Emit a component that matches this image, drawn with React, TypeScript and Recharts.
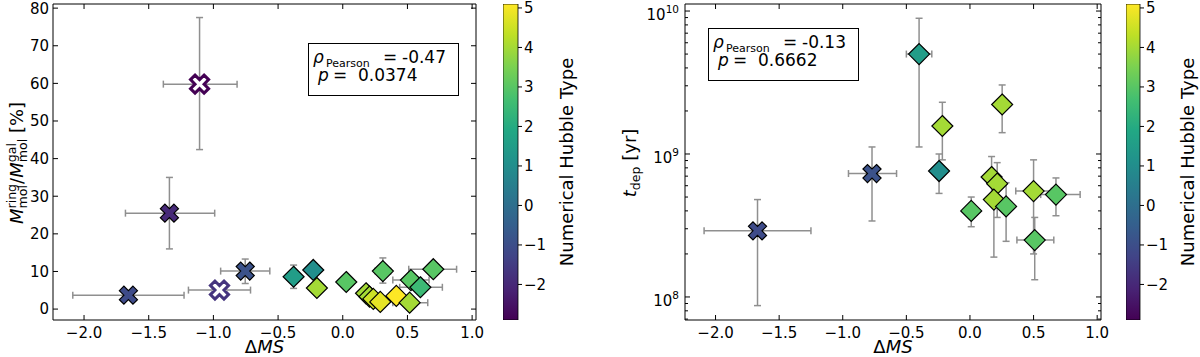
import { ScatterChart, Scatter, XAxis, YAxis, ErrorBar, ReferenceArea, BarChart, Bar } from 'recharts';

const FONT = '"DejaVu Sans", sans-serif';

// left panel: ring molecular gas fraction vs. offset from the main sequence
const ringDms = [-1.107, -1.34, -1.657, -0.754, -0.953, -0.38, -0.228, -0.2, 0.027, 0.31, 0.527, 0.6, 0.7, 0.18, 0.207, 0.236, 0.29, 0.414, 0.517];
const ringFrac = [59.8, 25.5, 3.7, 10.1, 5.05, 8.6, 10.4, 5.6, 7.2, 10.1, 7.7, 5.8, 10.6, 4.2, 3.3, 2.7, 1.9, 3.5, 1.7];
const ringType = [-2.9, -1.95, -1.1, -0.9, -1.7, 1.5, 1.0, 4.0, 3.0, 3.0, 3.0, 2.5, 3.0, 4.0, 4.0, 4.5, 4.8, 5.1, 4.0];
const ringMarker = ['xo', 'x', 'x', 'x', 'xo', 'd', 'd', 'd', 'd', 'd', 'd', 'd', 'd', 'd', 'd', 'd', 'd', 'd', 'd'];
const ringDmsErr = [[0.28, 0.29], [0.34, 0.35], [0.43, 0.43], [0.19, 0.19], [0.24, 0.24], [0.05, 0.05], [0.04, 0.04], [0.03, 0.03], [0.03, 0.03], [0.06, 0.06], [0.14, 0.14], [0.16, 0.17], [0.19, 0.18], [0.03, 0.03], [0.03, 0.03], [0.03, 0.03], [0.03, 0.03], [0.05, 0.05], [0.13, 0.14]];
const ringFracErr = [[17.4, 17.7], [9.5, 9.5], [0.8, 0.8], [3.3, 3.2], [0.8, 0.8], [3.1, 3.1], [1.2, 1.2], [1.0, 1.0], [1.0, 1.0], [3.2, 3.5], [1.0, 1.0], [1.0, 1.0], [1.0, 1.0], [0.5, 0.5], [0.5, 0.5], [0.5, 0.5], [0.5, 0.5], [0.6, 0.6], [0.5, 0.5]];
const ringStats = { rho: '-0.47', p: '0.0374' };

// right panel: depletion time vs. offset from the main sequence
const tdepDms = [-1.67, -0.77, -0.40, -0.217, -0.243, 0.253, 0.01, 0.17, 0.214, 0.188, 0.284, 0.50, 0.676, 0.509];
const tdepYr = [2.9e8, 7.3e8, 5.0e9, 1.57e9, 7.6e8, 2.22e9, 4.0e8, 6.9e8, 6.2e8, 4.8e8, 4.3e8, 5.5e8, 5.2e8, 2.5e8];
const tdepType = [-1.1, -0.9, 1.5, 4.0, 1.0, 4.0, 3.0, 4.0, 4.0, 4.0, 3.0, 4.0, 3.0, 3.0];
const tdepMarker = ['x', 'x', 'd', 'd', 'd', 'd', 'd', 'd', 'd', 'd', 'd', 'd', 'd', 'd'];
const tdepDmsErr = [[0.42, 0.42], [0.185, 0.193], [0.1, 0.1], [0.03, 0.03], [0.03, 0.03], [0.03, 0.03], [0.03, 0.03], [0.03, 0.03], [0.03, 0.03], [0.03, 0.03], [0.03, 0.03], [0.14, 0.14], [0.12, 0.19], [0.14, 0.15]];
const tdepErr = [[2.03e8, 1.9e8], [3.9e8, 3.9e8], [3.88e9, 3.9e9], [0.66e9, 0.73e9], [2.3e8, 2.4e8], [0.81e9, 0.82e9], [0.9e8, 1.0e8], [2.0e8, 2.7e8], [2.6e8, 2.5e8], [2.9e8, 1.5e8], [1.85e8, 2.0e8], [3.5e8, 3.6e8], [1.5e8, 1.6e8], [1.18e8, 1.1e8]];
const tdepStats = { rho: '-0.13', p: '0.6662' };

// ticks
const dmsTicks = [-2, -1.5, -1, -0.5, 0, 0.5, 1];
const fracTicks = [0, 10, 20, 30, 40, 50, 60, 70, 80];
const tdepTicks = [7e7, 8e7, 9e7, 1e8, 2e8, 3e8, 4e8, 5e8, 6e8, 7e8, 8e8, 9e8, 1e9, 2e9, 3e9, 4e9, 5e9, 6e9, 7e9, 8e9, 9e9, 1e10];
const hubbleTicks = [-2, -1, 0, 1, 2, 3, 4, 5];

const DMS_DOMAIN = [-2.24, 1.03];
const FRAC_DOMAIN = [-2.9, 81.1];
const TDEP_DOMAIN = [6.9e7, 1.12e10];
const T_MIN = -2.9;
const T_MAX = 5.1;

const VIRIDIS = ['#440154', '#482475', '#414487', '#355f8d', '#2a788e', '#21918c', '#22a884', '#44bf70', '#7ad151', '#bddf26', '#fde725'];
const ERR_COLOR = '#8f8f8f';

function rgb(h: string) {
  return [1, 3, 5].map((i) => parseInt(h.slice(i, i + 2), 16));
}

function viridis(t: number) {
  const f = Math.min(1, Math.max(0, (t - T_MIN) / (T_MAX - T_MIN))) * (VIRIDIS.length - 1);
  const i = Math.min(Math.floor(f), VIRIDIS.length - 2);
  const u = f - i;
  const a = rgb(VIRIDIS[i]);
  const b = rgb(VIRIDIS[i + 1]);
  const c = a.map((v, k) => Math.round(v + (b[k] - v) * u));
  return `rgb(${c[0]},${c[1]},${c[2]})`;
}

const ringData = ringDms.map((d, i) => ({
  dms: d, val: ringFrac[i], t: ringType[i], m: ringMarker[i], ex: ringDmsErr[i], ey: ringFracErr[i],
}));
const tdepData = tdepDms.map((d, i) => ({
  dms: d, val: tdepYr[i], t: tdepType[i], m: tdepMarker[i], ex: tdepDmsErr[i], ey: tdepErr[i],
}));
const cbData = [{ name: 'cb', range: [T_MIN, T_MAX] }];

// marker geometry
const D = 10.5;
const XA = 9.6;
const XW = 3.2;
const plusPts = [[-XW, -XA], [XW, -XA], [XW, -XW], [XA, -XW], [XA, XW], [XW, XW], [XW, XA], [-XW, XA], [-XW, XW], [-XA, XW], [-XA, -XW], [-XW, -XW]];

function Marker(props: any) {
  const { cx, cy, payload } = props;
  if (cx == null || cy == null) return null;
  const col = viridis(payload.t);
  if (payload.m === 'd') {
    return (
      <polygon
        points={`${cx},${cy - D} ${cx + D},${cy} ${cx},${cy + D} ${cx - D},${cy}`}
        fill={col} stroke="#000" strokeWidth={1.2}
      />
    );
  }
  const pts = plusPts
    .map(([x, y]) => `${cx + (x - y) * Math.SQRT1_2},${cy + (x + y) * Math.SQRT1_2}`)
    .join(' ');
  const open = payload.m === 'xo';
  return (
    <polygon
      points={pts}
      fill={open ? '#fff' : col}
      stroke={open ? col : '#000'}
      strokeWidth={open ? 3 : 1.2}
    />
  );
}

const fmtDms = (v: number) => (v < 0 ? '\u2212' : '') + Math.abs(v).toFixed(1);
const fmtInt = (v: number) => (v < 0 ? '\u2212' + Math.abs(v) : String(v));

// inward ticks on bottom + top spines
function xTick(plotH: number, tm: number) {
  return (p: any) => {
    const { x, y, payload } = p;
    const edge = y - tm;
    return (
      <g>
        <line x1={x} x2={x} y1={edge} y2={edge - 5} stroke="#000" />
        <line x1={x} x2={x} y1={edge - plotH} y2={edge - plotH + 5} stroke="#000" />
        <text x={x} y={y} dy="0.71em" textAnchor="middle" fontSize={15} fontFamily={FONT} fill="#000">
          {fmtDms(payload.value)}
        </text>
      </g>
    );
  };
}

// inward ticks on left + right spines
function yTick(plotW: number, tm: number, log: boolean) {
  return (p: any) => {
    const { x, y, payload } = p;
    const v = payload.value;
    const edge = x + tm;
    const lg = log ? Math.log10(v) : 0;
    const major = !log || Math.abs(lg - Math.round(lg)) < 1e-6;
    const len = major ? 5 : 3;
    return (
      <g>
        <line x1={edge} x2={edge + len} y1={y} y2={y} stroke="#000" />
        <line x1={edge + plotW} x2={edge + plotW - len} y1={y} y2={y} stroke="#000" />
        {!log && (
          <text x={x} y={y} dy="0.36em" textAnchor="end" fontSize={15} fontFamily={FONT} fill="#000">{v}</text>
        )}
        {log && major && (
          <text x={x} y={y} dy={9} textAnchor="end" fontSize={15} fontFamily={FONT} fill="#000">
            10<tspan dy={-7} fontSize={10.5}>{Math.round(lg)}</tspan>
          </text>
        )}
      </g>
    );
  };
}

function XTitle({ px, py }: any) {
  return (
    <text x={px} y={py} textAnchor="middle" fontSize={18} fontFamily={FONT} fill="#000">
      Δ<tspan fontStyle="italic">MS</tspan>
    </text>
  );
}

function FracTitle({ px, py }: any) {
  return (
    <text transform={`rotate(-90, ${px}, ${py})`} x={px} y={py} dy={6} textAnchor="middle" fontSize={18} fontFamily={FONT} fill="#000">
      <tspan fontStyle="italic">M</tspan>
      <tspan fontSize={12.6} dy={-7}>ring</tspan>
      <tspan fontSize={12.6} dx={-24.7} dy={11}>mol</tspan>
      <tspan dx={1.2} dy={-4}>/</tspan>
      <tspan fontStyle="italic">M</tspan>
      <tspan fontSize={12.6} dy={-7}>gal</tspan>
      <tspan fontSize={12.6} dx={-19.2} dy={11}>mol</tspan>
      <tspan dy={-4}> [%]</tspan>
    </text>
  );
}

function TdepTitle({ px, py }: any) {
  return (
    <text transform={`rotate(-90, ${px}, ${py})`} x={px} y={py} dy={6} textAnchor="middle" fontSize={18} fontFamily={FONT} fill="#000">
      <tspan fontStyle="italic">t</tspan>
      <tspan fontSize={12.6} dy={4}>dep</tspan>
      <tspan dy={-4}> [yr]</tspan>
    </text>
  );
}

function CbTitle({ px, py }: any) {
  return (
    <text transform={`rotate(-90, ${px}, ${py})`} x={px} y={py} dy={6} textAnchor="middle" fontSize={18} fontFamily={FONT} fill="#000">
      Numerical Hubble Type
    </text>
  );
}

function StatBox({ left, top, rho, p }: { left: number; top: number; rho: string; p: string }) {
  const t = { fontSize: 17, fontFamily: FONT, fill: '#000' };
  return (
    <svg style={{ position: 'absolute', left, top }} width={152} height={54}>
      <rect x={0.5} y={0.5} width={150} height={52} fill="#fff" stroke="#000" />
      <text x={5} y={20} {...t} fontStyle="italic">ρ</text>
      <text x={18} y={24} {...t} fontSize={11}>Pearson</text>
      <text x={75} y={20} {...t}>=</text>
      <text x={94} y={20} {...t}>{rho}</text>
      <text x={10} y={38} {...t} fontStyle="italic">p</text>
      <text x={25} y={38} {...t}>=</text>
      <text x={50} y={38} {...t}>{p}</text>
    </svg>
  );
}

function Colorbar({ id, plotW, axisW, titleX }: { id: string; plotW: number; axisW: number; titleX: number }) {
  return (
    <BarChart width={plotW + axisW} height={357} data={cbData} margin={{ top: 4, right: 0, bottom: 37, left: 0 }} barCategoryGap={0}>
      <defs>
        <linearGradient id={id} x1="0" y1="1" x2="0" y2="0">
          {VIRIDIS.map((c, i) => (
            <stop key={c} offset={i / (VIRIDIS.length - 1)} stopColor={c} />
          ))}
        </linearGradient>
      </defs>
      <XAxis dataKey="name" type="category" hide />
      <YAxis
        orientation="right" type="number" domain={[T_MIN, T_MAX]} ticks={hubbleTicks} allowDataOverflow interval={0}
        width={axisW} axisLine={false} tickSize={4} tickMargin={2} tickLine={{ stroke: '#000' }}
        tick={{ fontSize: 15, fill: '#000', fontFamily: FONT }} tickFormatter={fmtInt}
        label={<CbTitle px={plotW + titleX} py={162} />}
      />
      <Bar dataKey="range" fill={`url(#${id})`} stroke="#000" strokeWidth={0.8} isAnimationActive={false} />
    </BarChart>
  );
}

export default function App() {
  return (
    <div style={{ position: 'absolute', left: 0, top: 0, width: 1200, height: 357, background: '#fff', overflow: 'hidden' }}>
      <div style={{ position: 'absolute', left: 0, top: 0 }}>
        <ScatterChart width={500} height={357} margin={{ top: 4, right: 24, bottom: 0, left: 0 }}>
          <XAxis
            type="number" dataKey="dms" domain={DMS_DOMAIN} ticks={dmsTicks} allowDataOverflow interval={0}
            height={37} tickSize={0} tickMargin={7} axisLine={false} tickLine={false} tick={xTick(316, 7)}
            label={<XTitle px={264.5} py={353} />}
          />
          <YAxis
            type="number" dataKey="val" domain={FRAC_DOMAIN} ticks={fracTicks} allowDataOverflow interval={0}
            width={53} tickSize={0} tickMargin={4} axisLine={false} tickLine={false} tick={yTick(423, 4, false)}
            label={<FracTitle px={17} py={163} />}
          />
          <ReferenceArea x1={DMS_DOMAIN[0]} x2={DMS_DOMAIN[1]} y1={FRAC_DOMAIN[0]} y2={FRAC_DOMAIN[1]} fill="none" stroke="#000" strokeWidth={1} />
          <Scatter data={ringData} shape={Marker} isAnimationActive={false}>
            <ErrorBar dataKey="ex" direction="x" stroke={ERR_COLOR} strokeWidth={1.5} width={3.5} isAnimationActive={false} />
            <ErrorBar dataKey="ey" direction="y" stroke={ERR_COLOR} strokeWidth={1.5} width={3.5} isAnimationActive={false} />
          </Scatter>
        </ScatterChart>
        <StatBox left={308} top={43} rho={ringStats.rho} p={ringStats.p} />
      </div>

      <div style={{ position: 'absolute', left: 503, top: 0 }}>
        <Colorbar id="viridisL" plotW={15} axisW={75} titleX={49} />
      </div>

      <div style={{ position: 'absolute', left: 600, top: 0 }}>
        <ScatterChart width={520} height={357} margin={{ top: 4, right: 19, bottom: 0, left: 0 }}>
          <XAxis
            type="number" dataKey="dms" domain={DMS_DOMAIN} ticks={dmsTicks} allowDataOverflow interval={0}
            height={37} tickSize={0} tickMargin={7} axisLine={false} tickLine={false} tick={xTick(316, 7)}
            label={<XTitle px={293} py={353} />}
          />
          <YAxis
            type="number" dataKey="val" scale="log" domain={TDEP_DOMAIN} ticks={tdepTicks} allowDataOverflow interval={0}
            width={85} tickSize={0} tickMargin={6} axisLine={false} tickLine={false} tick={yTick(416, 6, true)}
            label={<TdepTitle px={30} py={163} />}
          />
          <ReferenceArea x1={DMS_DOMAIN[0]} x2={DMS_DOMAIN[1]} y1={TDEP_DOMAIN[0]} y2={TDEP_DOMAIN[1]} fill="none" stroke="#000" strokeWidth={1} />
          <Scatter data={tdepData} shape={Marker} isAnimationActive={false}>
            <ErrorBar dataKey="ex" direction="x" stroke={ERR_COLOR} strokeWidth={1.5} width={3.5} isAnimationActive={false} />
            <ErrorBar dataKey="ey" direction="y" stroke={ERR_COLOR} strokeWidth={1.5} width={3.5} isAnimationActive={false} />
          </Scatter>
        </ScatterChart>
        <StatBox left={108} top={28} rho={tdepStats.rho} p={tdepStats.p} />
      </div>

      <div style={{ position: 'absolute', left: 1126, top: 0 }}>
        <Colorbar id="viridisR" plotW={14} axisW={60} titleX={48} />
      </div>
    </div>
  );
}
